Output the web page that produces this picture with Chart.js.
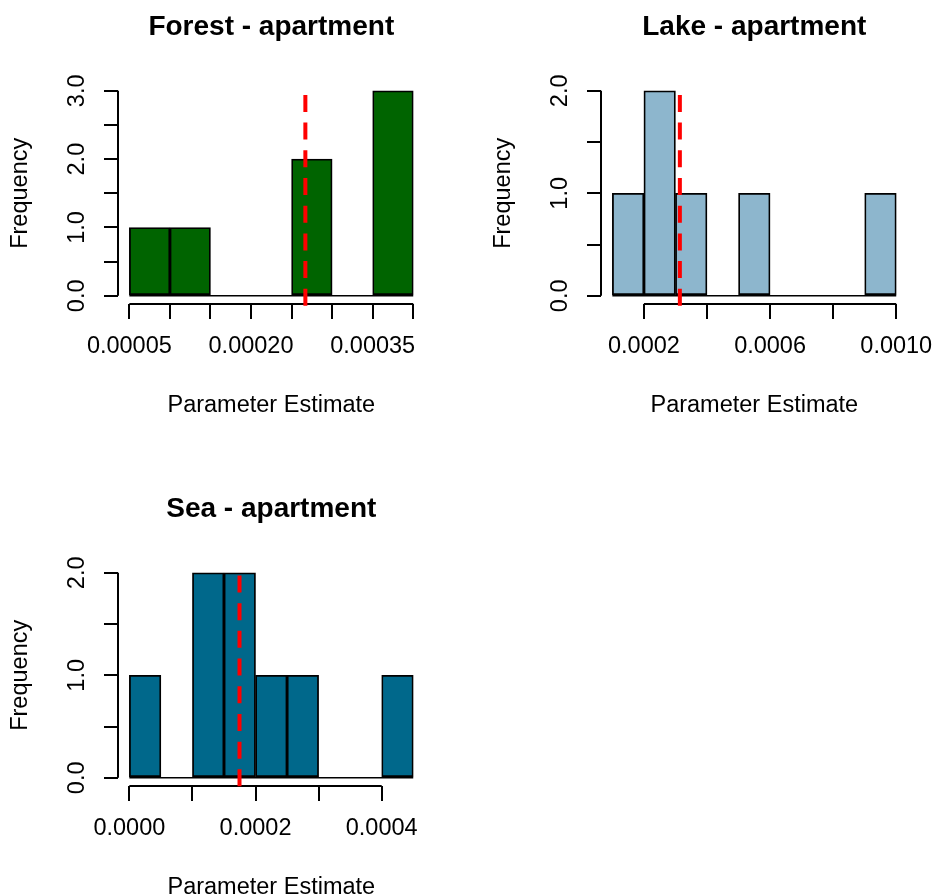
<!DOCTYPE html>
<html>
<head>
<meta charset="utf-8">
<script src="https://cdn.jsdelivr.net/npm/chart.js@4.4.1/dist/chart.umd.min.js"></script>
<style>
  html, body { margin: 0; padding: 0; background: #fff; overflow: hidden; }
  body { width: 935px; height: 896px; position: relative; }
  canvas { position: absolute; display: block; }
</style>
</head>
<body>
<canvas id="forestChart" width="500" height="448" style="left:0;top:0"></canvas>
<canvas id="lakeChart" width="500" height="448" style="left:483px;top:0"></canvas>
<canvas id="seaChart" width="500" height="448" style="left:0;top:482px"></canvas>
<script>
// Forest - apartment
const forestBreaks = [0.00005, 0.0001, 0.00015, 0.0002, 0.00025, 0.0003, 0.00035, 0.0004];
const forestCounts = [1, 1, 0, 0, 2, 0, 3];
const forestMean = 0.000267;
const forestMeanSpan = [2.94, -0.25];
const forestXTicks = [0.00005, 0.0001, 0.00015, 0.0002, 0.00025, 0.0003, 0.00035, 0.0004];
const forestXLabels = ['0.00005', '', '', '0.00020', '', '', '0.00035', ''];
const forestYTicks = [0, 0.5, 1, 1.5, 2, 2.5, 3];
const forestYLabels = ['0.0', '', '1.0', '', '2.0', '', '3.0'];

// Lake - apartment
const lakeBreaks = [0.0001, 0.0002, 0.0003, 0.0004, 0.0005, 0.0006, 0.0007, 0.0008, 0.0009, 0.001];
const lakeCounts = [1, 2, 1, 0, 1, 0, 0, 0, 1];
const lakeMean = 0.000314;
const lakeMeanSpan = [1.96, -0.17];
const lakeXTicks = [0.0002, 0.0004, 0.0006, 0.0008, 0.001];
const lakeXLabels = ['0.0002', '', '0.0006', '', '0.0010'];
const lakeYTicks = [0, 0.5, 1, 1.5, 2];
const lakeYLabels = ['0.0', '', '1.0', '', '2.0'];

// Sea - apartment
const seaBreaks = [0, 0.00005, 0.0001, 0.00015, 0.0002, 0.00025, 0.0003, 0.00035, 0.0004, 0.00045];
const seaCounts = [1, 0, 2, 2, 1, 1, 0, 0, 1];
const seaMean = 0.0001746;
const seaMeanSpan = [1.974, -0.16];
const seaXTicks = [0, 0.0001, 0.0002, 0.0003, 0.0004];
const seaXLabels = ['0.0000', '', '0.0002', '', '0.0004'];
const seaYTicks = [0, 0.5, 1, 1.5, 2];
const seaYLabels = ['0.0', '', '1.0', '', '2.0'];

Chart.defaults.font.family = "'Liberation Sans', Arial, sans-serif";
Chart.defaults.color = '#000';

// R draws the axis line only from the first tick to the last one
const rAxes = {
  id: 'rAxes',
  beforeDatasetsDraw(chart) {
    const {ctx, chartArea, scales: {x, y}} = chart;
    ctx.save();
    ctx.strokeStyle = '#000';
    ctx.lineWidth = 2;
    ctx.beginPath();
    ctx.moveTo(chartArea.left, y.getPixelForValue(y.ticks[0].value));
    ctx.lineTo(chartArea.left, y.getPixelForValue(y.ticks.at(-1).value));
    ctx.moveTo(x.getPixelForValue(x.ticks[0].value), chartArea.bottom);
    ctx.lineTo(x.getPixelForValue(x.ticks.at(-1).value), chartArea.bottom);
    ctx.stroke();
    ctx.restore();
  }
};

function histChart(id, title, color, breaks, counts, mean, meanSpan, xTicks, xLabels, yTicks, yLabels) {
  const xPad = (breaks.at(-1) - breaks[0]) * 0.04;
  const top = Math.max(...counts);
  const bars = counts.map((c, i) => ({x: (breaks[i] + breaks[i + 1]) / 2, y: c}));

  new Chart(document.getElementById(id), {
    type: 'bar',
    data: {
      datasets: [
        {
          type: 'line',
          data: [{x: mean, y: meanSpan[0]}, {x: mean, y: meanSpan[1]}],
          borderColor: '#ff0000',
          borderWidth: 4,
          borderDash: [17, 10.7],
          pointRadius: 0,
          clip: false,
          order: 0
        },
        {
          type: 'line',
          data: [{x: breaks[0], y: 0}, {x: breaks.at(-1), y: 0}],
          borderColor: '#000',
          borderWidth: 1.5,
          pointRadius: 0,
          order: 1
        },
        {
          type: 'bar',
          data: bars,
          backgroundColor: color,
          borderColor: '#000',
          borderWidth: 1.8,
          borderSkipped: false,
          barPercentage: 1,
          categoryPercentage: 1,
          order: 2
        }
      ]
    },
    options: {
      responsive: false,
      animation: false,
      events: [],
      layout: { padding: { left: 0, right: 500 - 424.6, top: 0, bottom: 0 } },
      plugins: {
        legend: { display: false },
        tooltip: { enabled: false },
        title: {
          display: true,
          text: title,
          fullSize: false,
          color: '#000',
          font: { size: 28, weight: 'bold' },
          padding: { top: 10, bottom: 39 }
        }
      },
      scales: {
        x: {
          type: 'linear',
          bounds: 'data',
          offset: false,
          min: breaks[0] - xPad,
          max: breaks.at(-1) + xPad,
          afterBuildTicks: s => { s.ticks = xTicks.map(v => ({value: v})); },
          afterFit: s => { s.height = 144; },
          border: { display: false },
          grid: { offset: false, drawOnChartArea: false, drawTicks: true, tickLength: 15, lineWidth: 2, tickWidth: 2, tickColor: '#000' },
          ticks: {
            autoSkip: false,
            minRotation: 0,
            maxRotation: 0,
            padding: 13.8,
            font: { size: 23.5 },
            callback: (v, i) => xLabels[i]
          },
          title: {
            display: true,
            text: 'Parameter Estimate',
            font: { size: 23.5 },
            padding: { top: 0, bottom: 28.5 }
          }
        },
        y: {
          type: 'linear',
          bounds: 'data',
          min: -0.04 * top,
          max: top * 1.04,
          afterBuildTicks: s => { s.ticks = yTicks.map(v => ({value: v})); },
          afterFit: s => { s.width = 118; },
          border: { display: false },
          grid: { offset: false, drawOnChartArea: false, drawTicks: true, tickLength: 14, lineWidth: 2, tickWidth: 2, tickColor: '#000' },
          ticks: {
            autoSkip: false,
            minRotation: 90,
            maxRotation: 90,
            crossAlign: 'center',
            padding: 10.2,
            font: { size: 23.5 },
            callback: (v, i) => yLabels[i]
          },
          title: {
            display: true,
            text: 'Frequency',
            font: { size: 23.5 },
            padding: { top: 6, bottom: 0 }
          }
        }
      }
    },
    plugins: [rAxes]
  });
}

histChart('forestChart', 'Forest - apartment', '#006400', forestBreaks, forestCounts, forestMean, forestMeanSpan,
  forestXTicks, forestXLabels, forestYTicks, forestYLabels);
histChart('lakeChart', 'Lake - apartment', '#8DB6CD', lakeBreaks, lakeCounts, lakeMean, lakeMeanSpan,
  lakeXTicks, lakeXLabels, lakeYTicks, lakeYLabels);
histChart('seaChart', 'Sea - apartment', '#00688B', seaBreaks, seaCounts, seaMean, seaMeanSpan,
  seaXTicks, seaXLabels, seaYTicks, seaYLabels);
</script>
</body>
</html>
